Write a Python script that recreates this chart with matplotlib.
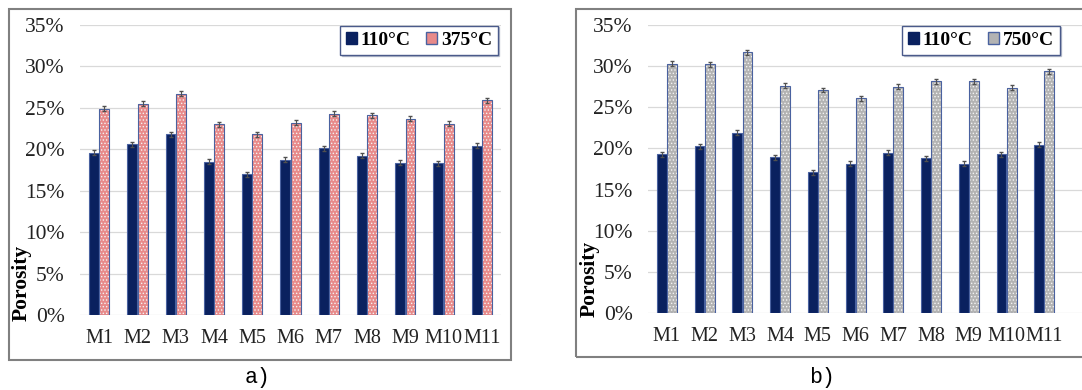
import numpy as np
import matplotlib.pyplot as plt
from matplotlib.patches import Rectangle, Patch
from matplotlib.ticker import PercentFormatter

# data (porosity, %)
samples = ['M1', 'M2', 'M3', 'M4', 'M5', 'M6', 'M7', 'M8', 'M9', 'M10', 'M11']
a_110 = [19.6, 20.6, 21.8, 18.5, 17.0, 18.75, 20.1, 19.2, 18.4, 18.3, 20.4]
a_375 = [24.9, 25.5, 26.7, 23.0, 21.8, 23.2, 24.3, 24.1, 23.7, 23.1, 25.9]
b_110 = [19.3, 20.25, 21.9, 18.95, 17.1, 18.15, 19.5, 18.8, 18.15, 19.3, 20.45]
b_750 = [30.3, 30.25, 31.7, 27.6, 27.1, 26.1, 27.5, 28.15, 28.15, 27.4, 29.4]
err = 0.3

W, H = 1082, 390
plt.rcParams['font.family'] = 'Liberation Serif'
plt.rcParams['hatch.linewidth'] = 0.6

fig = plt.figure(figsize=(W / 100, H / 100), dpi=100)

navy = '#0a215f'
edge = '#4a62a0'


def px(x0, y0, x1, y1):
    # pixel box (top-left origin) -> figure fraction rect
    return [x0 / W, 1 - y1 / H, (x1 - x0) / W, (y1 - y0) / H]


def panel(rect, v1, v2, c2, lab2, xmax, leg_anchor):
    ax = fig.add_axes(rect)
    x = np.arange(len(samples))
    bw = 0.26
    ax.bar(x - 0.135, v1, bw, color=navy, edgecolor=edge, linewidth=0.8, zorder=3)
    ax.errorbar(x - 0.135, v1, yerr=err, fmt='none', ecolor='#505050',
                elinewidth=0.8, capsize=1.5, zorder=4)
    ax.bar(x + 0.135, v2, bw, color=c2, edgecolor='#f4f4f4', linewidth=0,
           hatch='.....', zorder=3)
    ax.bar(x + 0.135, v2, bw, color='none', edgecolor=edge, linewidth=0.8, zorder=3)
    ax.errorbar(x + 0.135, v2, yerr=err, fmt='none', ecolor='#505050',
                elinewidth=0.8, capsize=1.5, zorder=4)
    ax.set_xlim(-0.5, xmax)
    ax.set_ylim(0, 35)
    ax.set_yticks(np.arange(0, 36, 5))
    ax.yaxis.set_major_formatter(PercentFormatter(decimals=0))
    ax.set_xticks(x)
    ax.set_xticklabels(samples)
    ax.tick_params(length=0, colors='#222222')
    ax.tick_params(axis='y', pad=11, labelsize=15.5)
    ax.tick_params(axis='x', pad=10, labelsize=14.5)
    ax.grid(axis='y', color='#d9d9d9', linewidth=0.9, zorder=0)
    ax.set_axisbelow(True)
    for s in ax.spines.values():
        s.set_visible(False)
    handles = [Patch(facecolor=navy, edgecolor=navy, label='110°C'),
               Patch(facecolor=c2, edgecolor=edge, label=lab2)]
    leg = fig.legend(handles=handles, loc='upper right',
                     bbox_to_anchor=leg_anchor, borderaxespad=0, ncol=2,
                     frameon=True, prop={'weight': 'bold', 'size': 14},
                     handlelength=0.55, handleheight=0.55, handletextpad=0.2,
                     columnspacing=0.8, borderpad=0.3, fancybox=False,
                     shadow={'ox': 1.0, 'oy': -1.0, 'color': '#9aa3b8', 'alpha': 0.6})
    leg.get_frame().set_edgecolor('#4a5a8a')
    leg.get_frame().set_linewidth(1.0)
    return ax


panel(px(80, 25, 501, 315), a_110, a_375, '#e88a8a', '375°C', 10.5,
      (498 / W, 1 - 26 / H))
panel(px(648, 25, 1082, 313), b_110, b_750, '#b3b3b3', '750°C', 11.0,
      (1060 / W, 1 - 26 / H))

# panel frames
for x0, y0, x1, y1 in [(9, 9, 511, 360), (576, 9, 1100, 357)]:
    fig.patches.append(Rectangle((x0 / W, 1 - y1 / H), (x1 - x0) / W, (y1 - y0) / H,
                                 transform=fig.transFigure, fill=False,
                                 edgecolor='#808080', linewidth=1.5))

# y labels
fig.text(22 / W, 1 - 321 / H, 'Porosity', rotation=90, ha='center', va='bottom',
         fontsize=15.5, fontweight='bold')
fig.text(590 / W, 1 - 317 / H, 'Porosity', rotation=90, ha='center', va='bottom',
         fontsize=15.5, fontweight='bold')

# captions
fig.text(257 / W, 1 - 378 / H, 'a)', ha='center', va='center',
         family='Liberation Mono', fontsize=15.5)
fig.text(822 / W, 1 - 378 / H, 'b)', ha='center', va='center',
         family='Liberation Mono', fontsize=15.5)

fig.savefig('out.png', dpi=100)
